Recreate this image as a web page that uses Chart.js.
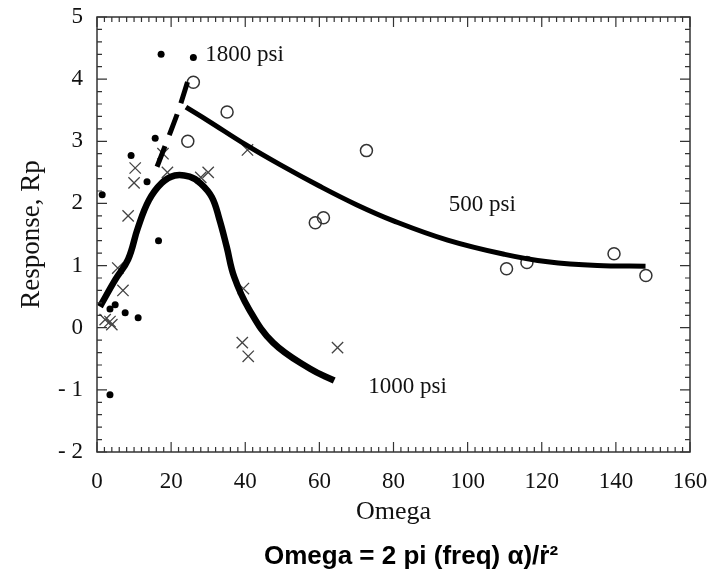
<!DOCTYPE html>
<html>
<head>
<meta charset="utf-8">
<script src="https://cdn.jsdelivr.net/npm/chart.js@4.4.0/dist/chart.umd.min.js"></script>
<style>
  html, body { margin: 0; padding: 0; background: #fff; }
  #wrap { width: 715px; height: 573px; }
</style>
</head>
<body>
<div id="wrap"><canvas id="response-chart"></canvas></div>
<script>
const dots1800 = [
  [17.3, 4.4], [26, 4.35], [15.7, 3.05], [9.2, 2.77], [13.5, 2.35], [1.4, 2.14],
  [16.6, 1.4], [4.9, 0.37], [3.5, 0.3], [7.6, 0.24], [11.1, 0.16], [3.5, -1.08]
];
const crosses1000 = [
  [2.2, 0.13], [3.5, 0.1], [4, 0.05], [5.6, 0.96], [7, 0.6], [8.4, 1.8],
  [10, 2.33], [10.3, 2.57], [17.8, 2.8], [19, 2.5], [28, 2.42], [30, 2.5],
  [40.6, 2.86], [39.5, 0.63], [39.2, -0.24], [40.8, -0.46], [64.9, -0.32]
];
const circles500 = [
  [24.5, 3.0], [26, 3.95], [35.1, 3.47], [58.9, 1.69], [61.1, 1.77], [72.7, 2.85],
  [110.5, 0.95], [116, 1.05], [139.5, 1.19], [148.1, 0.84]
];
const fit500 = [
  [24, 3.55], [30, 3.33], [40, 2.95], [49.5, 2.62], [60, 2.28], [70, 1.98],
  [80, 1.72], [94.6, 1.41], [110, 1.18], [121.6, 1.06], [135, 1.0], [148, 0.99]
];
const fit1000 = [
  [0.8, 0.34], [4.9, 0.77], [8.4, 1.1], [11, 1.6], [14, 2.05], [17.5, 2.33],
  [21, 2.45], [25, 2.43], [28, 2.32], [31, 2.1], [33, 1.75], [35, 1.3],
  [37, 0.82], [41, 0.3], [47.5, -0.24], [57.5, -0.66], [64, -0.85]
];
const fit1800 = [[16.2, 2.59], [19.5, 3.1], [22, 3.5], [25.2, 4.1]];

const xTicks = [0, 20, 40, 60, 80, 100, 120, 140, 160];
const yTicks = [-2, -1, 0, 1, 2, 3, 4, 5];
const yTickLabels = ['- 2', '- 1', '0', '1', '2', '3', '4', '5'];

const curveLabels = [
  { text: '1800 psi', x: 29.2, y: 4.39 },
  { text: '500 psi', x: 94.9, y: 1.98 },
  { text: '1000 psi', x: 73.2, y: -0.95 }
];
const formula = 'Omega = 2 pi (freq) α)/ṙ²';

const toXY = arr => arr.map(([x, y]) => ({ x, y }));
const SERIF = "'Liberation Serif', 'Times New Roman', serif";

// frame with inward ticks on all four sides, curve labels and the formula
const frameTicks = {
  id: 'frameTicks',
  afterDatasetsDraw(chart) {
    const { ctx, chartArea: a, scales: { x, y } } = chart;
    ctx.save();
    ctx.strokeStyle = '#333';
    ctx.lineWidth = 1.5;
    ctx.strokeRect(a.left, a.top, a.right - a.left, a.bottom - a.top);
    ctx.lineWidth = 1.2;
    ctx.beginPath();
    for (let v = 0; v <= 160; v += 2) {
      const px = x.getPixelForValue(v);
      const len = v % 20 === 0 ? 10 : 5;
      ctx.moveTo(px, a.bottom); ctx.lineTo(px, a.bottom - len);
      ctx.moveTo(px, a.top); ctx.lineTo(px, a.top + len);
    }
    for (let i = -10; i <= 25; i++) {
      const py = y.getPixelForValue(i / 5);
      const len = i % 5 === 0 ? 10 : 5;
      ctx.moveTo(a.left, py); ctx.lineTo(a.left + len, py);
      ctx.moveTo(a.right, py); ctx.lineTo(a.right - len, py);
    }
    ctx.stroke();

    ctx.fillStyle = '#111';
    ctx.font = '23px ' + SERIF;
    ctx.textBaseline = 'middle';
    curveLabels.forEach(l => {
      ctx.fillText(l.text, x.getPixelForValue(l.x), y.getPixelForValue(l.y));
    });

    ctx.fillStyle = '#000';
    ctx.font = "bold 26px 'Liberation Sans', Arial, sans-serif";
    ctx.textAlign = 'center';
    ctx.fillText(formula, 411, 557);
    ctx.restore();
  }
};

new Chart(document.getElementById('response-chart'), {
  type: 'scatter',
  data: {
    datasets: [
      {
        label: '500 psi fit', type: 'line', data: toXY(fit500),
        borderColor: '#000', borderWidth: 5, tension: 0.4,
        pointRadius: 0, fill: false
      },
      {
        label: '1000 psi fit', type: 'line', data: toXY(fit1000),
        borderColor: '#000', borderWidth: 6.5, tension: 0.4,
        pointRadius: 0, fill: false
      },
      {
        label: '1800 psi fit', type: 'line', data: toXY(fit1800),
        borderColor: '#000', borderWidth: 5, borderDash: [22, 12], tension: 0.3,
        pointRadius: 0, fill: false
      },
      {
        label: '1800 psi', data: toXY(dots1800),
        pointStyle: 'circle', pointRadius: 3.5,
        backgroundColor: '#000', borderColor: '#000', borderWidth: 0
      },
      {
        label: '1000 psi', data: toXY(crosses1000),
        pointStyle: 'crossRot', pointRadius: 8,
        borderColor: '#444', borderWidth: 1.3
      },
      {
        label: '500 psi', data: toXY(circles500),
        pointStyle: 'circle', pointRadius: 6,
        backgroundColor: 'rgba(0,0,0,0)', borderColor: '#333', borderWidth: 1.5
      }
    ]
  },
  options: {
    responsive: true,
    maintainAspectRatio: false,
    animation: false,
    layout: { padding: { top: 17, right: 25, left: 0, bottom: 0 } },
    plugins: {
      legend: { display: false },
      tooltip: { enabled: false }
    },
    scales: {
      x: {
        type: 'linear', min: 0, max: 160,
        afterFit: s => { s.height = 121; s.paddingLeft = 0; s.paddingRight = 0; },
        afterBuildTicks: s => { s.ticks = xTicks.map(v => ({ value: v })); },
        grid: { display: false, drawTicks: false },
        border: { display: false },
        ticks: { color: '#111', padding: 16, maxRotation: 0, font: { family: SERIF, size: 23 } },
        title: {
          display: true, text: 'Omega', color: '#111',
          font: { family: SERIF, size: 26 }, padding: { top: 0, bottom: 45 }
        }
      },
      y: {
        type: 'linear', min: -2, max: 5,
        afterFit: s => { s.width = 97; s.paddingTop = 0; s.paddingBottom = 0; },
        afterBuildTicks: s => { s.ticks = yTicks.map(v => ({ value: v })); },
        grid: { display: false, drawTicks: false },
        border: { display: false },
        ticks: {
          color: '#111', padding: 14, font: { family: SERIF, size: 23 },
          callback: v => yTickLabels[yTicks.indexOf(v)]
        },
        title: {
          display: true, text: 'Response, Rp', color: '#111',
          font: { family: SERIF, size: 27 }, padding: { top: 16, bottom: 0 }
        }
      }
    }
  },
  plugins: [frameTicks]
});
</script>
</body>
</html>
